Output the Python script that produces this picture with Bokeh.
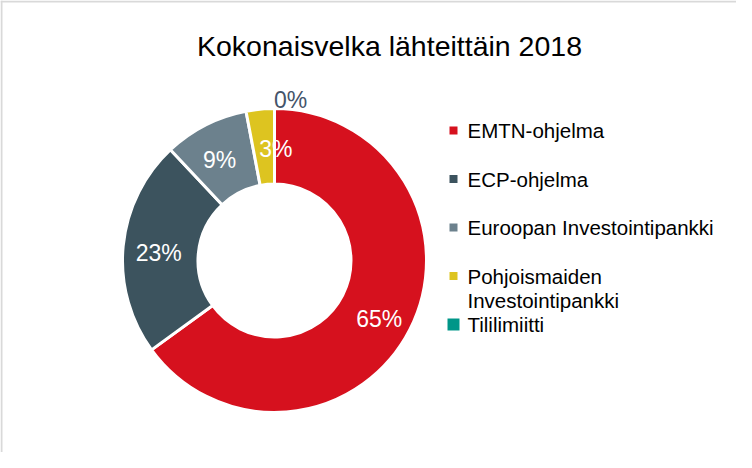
import numpy as np
from bokeh.plotting import figure
from bokeh.models import Range1d, Span, ColumnDataSource
from bokeh.core.properties import value
from bokeh.embed import file_html
from bokeh.resources import INLINE

# ---- data ----
title_text = "Kokonaisvelka lähteittäin 2018"
categories = ["EMTN-ohjelma", "ECP-ohjelma", "Euroopan Investointipankki",
              "Pohjoismaiden\nInvestointipankki", "Tililimiitti"]
shares = [65, 23, 9, 3, 0]
colors = ["#d6111e", "#3c535e", "#6c818d", "#ddc420", "#009688"]

# ---- layout / style ----
W, H = 736, 452
FONT = "Liberation Sans"
cx, cy = 274, H - (268 - 8)          # donut centre (1 unit = 1 px)
r_out, r_in = 152, 76.5
label_offsets = [(3, 7), (-2, 3), (-3, 1), (12, 2), (16, 0)]
label_colors = ["white", "white", "white", "white", "#44546a"]
legend_marker_sizes = [8, 8, 8, 8, 12]

p = figure(width=W, height=H, output_backend="svg", toolbar_location=None,
           x_range=Range1d(0, W), y_range=Range1d(0, H), min_border=0,
           outline_line_color=None)
p.axis.visible = False
p.grid.visible = False
p.background_fill_color = "white"
p.border_fill_color = "white"

# chart border (left/top visible in crop)
p.add_layout(Span(location=1, dimension="height", line_color="#d9d9d9", line_width=2))
p.add_layout(Span(location=H - 1, dimension="width", line_color="#d9d9d9", line_width=2))

total = float(sum(shares))
frac = np.array(shares) / total
cum_after = np.cumsum(frac)
cum_before = cum_after - frac
start = np.pi / 2 - 2 * np.pi * cum_before
end = np.pi / 2 - 2 * np.pi * cum_after
mid = (start + end) / 2

mask = frac > 0
wsrc = ColumnDataSource(dict(start=start[mask], end=end[mask],
                             color=[c for c, m in zip(colors, mask) if m]))
p.annular_wedge(x=cx, y=cy, inner_radius=r_in, outer_radius=r_out,
                inner_radius_units="screen", outer_radius_units="screen",
                start_angle="start", end_angle="end", direction="clock",
                fill_color="color", line_color="white", line_width=3, source=wsrc)

# data labels
r_mid = (r_in + r_out) / 2
lx, ly, ltxt = [], [], []
for i, s in enumerate(shares):
    r = r_mid if s > 0 else r_out + 9
    lx.append(cx + r * np.cos(mid[i]))
    ly.append(cy + r * np.sin(mid[i]))
    ltxt.append(f"{round(s)}%")
lsrc = ColumnDataSource(dict(x=lx, y=ly, t=ltxt, c=label_colors,
                             dx=[o[0] for o in label_offsets],
                             dy=[o[1] for o in label_offsets]))
p.text(x="x", y="y", text="t", text_color="c", x_offset="dx", y_offset="dy",
       text_font=value(FONT), text_font_size="23px",
       text_align="center", text_baseline="middle", source=lsrc)

# title
p.text(x=[389], y=[H - 45], text=[title_text], text_font=value(FONT),
       text_font_size="28.5px", text_color="black",
       text_align="center", text_baseline="alphabetic")

# legend
leg_x, leg_y0, leg_step, line_h = 453, H - 130, 48.5, 24
mx, my, tx, ty, tt = [], [], [], [], []
for i, name in enumerate(categories):
    y = leg_y0 - i * leg_step
    mx.append(leg_x); my.append(y)
    for j, line in enumerate(name.split("\n")):
        tx.append(leg_x + 14); ty.append(y - j * line_h); tt.append(line)
p.scatter(x=mx, y=my, marker="square", size=legend_marker_sizes,
          fill_color=colors, line_color=None)
p.text(x=tx, y=ty, text=tt, text_font=value(FONT), text_font_size="20.5px",
       text_color="black", text_align="left", text_baseline="middle")

open("out.html", "w").write(file_html(p, INLINE))
